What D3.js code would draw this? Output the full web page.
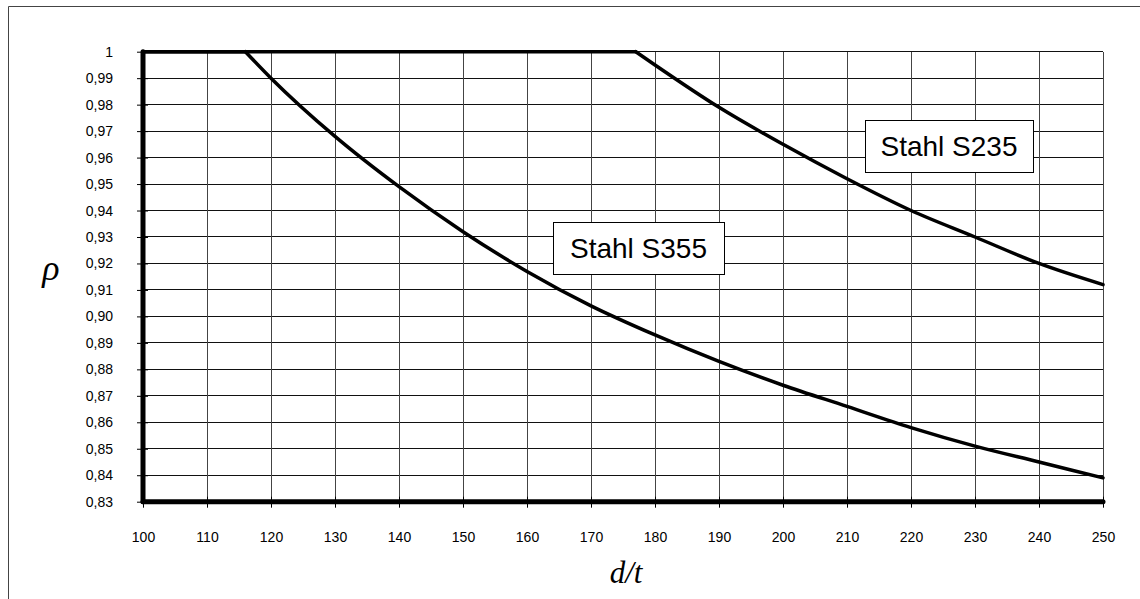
<!DOCTYPE html>
<html><head><meta charset="utf-8">
<script src="https://cdn.jsdelivr.net/npm/d3@7"></script>
<style>
html,body{margin:0;padding:0;background:#fff;}
svg{display:block;}
</style></head>
<body>
<svg id="chart" width="1140" height="599"></svg>
<script>
// ---- data ----
const xTicks = [100,110,120,130,140,150,160,170,180,190,200,210,220,230,240,250];
const yTicks = [0.83,0.84,0.85,0.86,0.87,0.88,0.89,0.90,0.91,0.92,0.93,0.94,0.95,0.96,0.97,0.98,0.99,1.00];
const yTickLabels = ["0,83","0,84","0,85","0,86","0,87","0,88","0,89","0,90","0,91","0,92","0,93","0,94","0,95","0,96","0,97","0,98","0,99","1"];
const s355_dt  = [100, 116, 120, 130, 140, 150, 160, 170, 180, 190, 200, 210, 220, 230, 240, 250];
const s355_rho = [1.000, 1.000, 0.990, 0.968, 0.949, 0.932, 0.917, 0.904, 0.893, 0.883, 0.874, 0.866, 0.858, 0.851, 0.845, 0.839];
const s235_dt  = [100, 177, 180, 190, 200, 210, 220, 230, 240, 250];
const s235_rho = [1.000, 1.000, 0.995, 0.979, 0.965, 0.952, 0.940, 0.930, 0.920, 0.912];
const seriesNames = ["Stahl S355","Stahl S235"];

// ---- layout ----
const svg = d3.select("#chart");
const x = d3.scaleLinear().domain([100,250]).range([143,1103]);
const y = d3.scaleLinear().domain([0.83,1.0]).range([501.7,51.7]);

// outer frame (left + top)
svg.append("path").attr("d","M8.5,599 L8.5,6.5 L1140,6.5")
  .attr("fill","none").attr("stroke","#444").attr("stroke-width",1);

// gridlines
const grid = svg.append("g").attr("shape-rendering","crispEdges");
grid.selectAll("line.h").data(yTicks).join("line")
  .attr("x1",x(100)).attr("x2",x(250))
  .attr("y1",d=>y(d)).attr("y2",d=>y(d))
  .attr("stroke","#111").attr("stroke-width",1);
grid.selectAll("line.v").data(xTicks).join("line")
  .attr("y1",y(1.0)).attr("y2",y(0.83))
  .attr("x1",d=>x(d)).attr("x2",d=>x(d))
  .attr("stroke","#444").attr("stroke-width",1);

// y axis
const yAxis = d3.axisLeft(y).tickValues(yTicks)
  .tickFormat((d,i)=>yTickLabels[i]).tickSize(6).tickPadding(24);
const gy = svg.append("g").attr("transform",`translate(${x(100)},0)`).call(yAxis);
gy.select(".domain").remove();
gy.selectAll(".tick line").attr("stroke","#000").attr("x2",-6).attr("x1",5);
gy.selectAll(".tick text").attr("font-family","'Liberation Sans', Arial, sans-serif")
  .attr("font-size",14).attr("fill","#000");

// x axis
const xAxis = d3.axisBottom(x).tickValues(xTicks).tickSize(6).tickPadding(24);
const gx = svg.append("g").attr("transform",`translate(0,${y(0.83)})`).call(xAxis);
gx.select(".domain").remove();
gx.selectAll(".tick line").attr("stroke","#000").attr("y1",-5).attr("y2",6);
gx.selectAll(".tick text").attr("font-family","'Liberation Sans', Arial, sans-serif")
  .attr("font-size",14).attr("fill","#000");

// thick axis lines
svg.append("line").attr("x1",x(100)).attr("x2",x(100)).attr("y1",y(1.0)).attr("y2",y(0.83))
  .attr("stroke","#000").attr("stroke-width",5).attr("stroke-linecap","round");
svg.append("line").attr("x1",x(100)).attr("x2",x(250)).attr("y1",y(0.83)).attr("y2",y(0.83))
  .attr("stroke","#000").attr("stroke-width",5).attr("stroke-linecap","round");

// series
function drawSeries(dt, rho){
  const pts = dt.map((d,i)=>[d,rho[i]]);
  const lin = d3.line().x(d=>x(d[0])).y(d=>y(d[1]));
  const smooth = d3.line().x(d=>x(d[0])).y(d=>y(d[1])).curve(d3.curveMonotoneX);
  svg.append("path").attr("d",lin(pts.slice(0,2)))
    .attr("fill","none").attr("stroke","#000").attr("stroke-width",3.5).attr("stroke-linecap","round");
  svg.append("path").attr("d",smooth(pts.slice(1)))
    .attr("fill","none").attr("stroke","#000").attr("stroke-width",3.5)
    .attr("stroke-linecap","round").attr("stroke-linejoin","round");
}
drawSeries(s355_dt, s355_rho);
drawSeries(s235_dt, s235_rho);

// labels
function label(text, bx, by, bw, bh){
  svg.append("rect").attr("x",bx+0.5).attr("y",by+0.5).attr("width",bw).attr("height",bh)
    .attr("fill","#fff").attr("stroke","#000").attr("stroke-width",1);
  svg.append("text").attr("x",bx+bw/2).attr("y",by+bh/2+10).attr("text-anchor","middle")
    .attr("font-family","'Liberation Sans', Arial, sans-serif").attr("font-size",28)
    .attr("fill","#000").text(text);
}
label(seriesNames[0], 553, 222, 171, 52);
label(seriesNames[1], 865, 120, 168, 52);

// axis titles
svg.append("text").attr("x",51).attr("y",280).attr("text-anchor","middle")
  .attr("font-family","'Liberation Serif','Times New Roman',serif").attr("font-style","italic")
  .attr("font-size",36).attr("fill","#000").text("ρ");
svg.append("text").attr("x",(x(100)+x(250))/2+3).attr("y",583).attr("text-anchor","middle")
  .attr("font-family","'Liberation Serif','Times New Roman',serif").attr("font-style","italic")
  .attr("font-size",31).attr("fill","#000").text("d/t");
</script>
</body></html>
